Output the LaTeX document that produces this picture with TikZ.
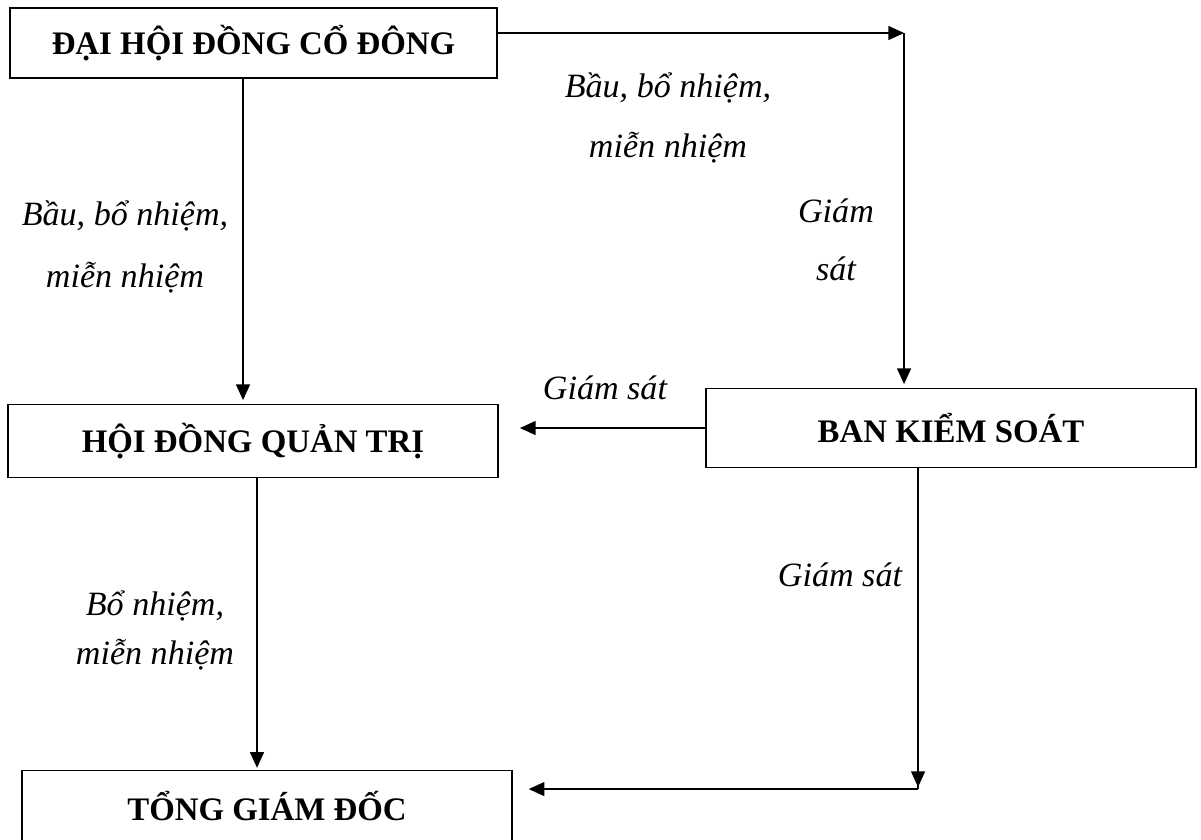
\documentclass[tikz,border=0pt]{standalone}
\usepackage{fontspec}
\setmainfont{Liberation Serif}
\usepackage{tikz}
\usetikzlibrary{arrows.meta,positioning}

\tikzset{
  box/.style={draw,line width=1.1pt,inner sep=0pt,font=\bfseries\fontsize{18.8}{22}\selectfont},
  lbl/.style={align=center,inner sep=0pt,font=\itshape\fontsize{19.5}{34}\selectfont},
  arr/.style={-{Triangle[length=9pt,width=8pt]},line width=0.85pt}
}

\begin{document}
\begin{tikzpicture}[scale=0.57]
\clip (0bp,0bp) rectangle (1201bp,-839bp);
\fill[white] (0bp,0bp) rectangle (1201bp,-839bp);
% boxes
\node (dhdcd) at (253.5bp,-43bp)[box,minimum width=277.6bp,minimum height=39.9bp] {ĐẠI HỘI ĐỒNG CỔ ĐÔNG};
\node (hdqt) at (253bp,-441bp)[box,minimum width=279.3bp,minimum height=41.6bp] {HỘI ĐỒNG QUẢN TRỊ};
\node (bks) at (951bp,-428bp)[box,minimum width=279.3bp,minimum height=45bp] {BAN KIỂM SOÁT};
\node (tgd) at (267bp,-806bp)[box,minimum width=279.3bp,minimum height=40.5bp] {TỔNG GIÁM ĐỐC};
% turning points
\coordinate (cornerA) at (904bp,-33bp);
\coordinate (cornerB) at (918bp,-789bp);
\coordinate (colA) at (243bp,0bp);
\coordinate (colB) at (257bp,0bp);
% connectors
\draw [arr] (dhdcd.east |- cornerA) -- (cornerA);
\draw [arr] (cornerA) -- (cornerA |- bks.north) [shorten >=2pt];
\draw [arr,shorten >=2pt] (dhdcd.south -| colA) -- (hdqt.north -| colA);
\draw [arr,shorten >=12pt] (bks.west) -- (bks.west -| hdqt.east);
\draw [arr,shorten >=1pt] (hdqt.south -| colB) -- (tgd.north -| colB);
\draw [line width=0.85pt] (bks.south -| cornerB) -- (cornerB);
\draw [arr,shorten >=9pt] (cornerB) -- (cornerB -| tgd.east);
\draw [arr] (bks.south -| cornerB) -- ([yshift=2pt]cornerB);
% labels
\node (lblBauA) at (668bp,-118bp)[lbl] {Bầu, bổ nhiệm,\\miễn nhiệm};
\node (lblGsA) at (836bp,-240bp)[lbl,font=\itshape\fontsize{19.5}{33}\selectfont] {Giám\\sát};
\node (lblBauB) at (125bp,-247bp)[lbl,font=\itshape\fontsize{19.5}{36}\selectfont] {Bầu, bổ nhiệm,\\miễn nhiệm};
\node (lblGsB) at (605bp,-388bp)[lbl] {Giám sát};
\node (lblBo) at (155bp,-630bp)[lbl,font=\itshape\fontsize{19.5}{28}\selectfont] {Bổ nhiệm,\\miễn nhiệm};
\node (lblGsC) at (840bp,-575bp)[lbl] {Giám sát};
\end{tikzpicture}
\end{document}
